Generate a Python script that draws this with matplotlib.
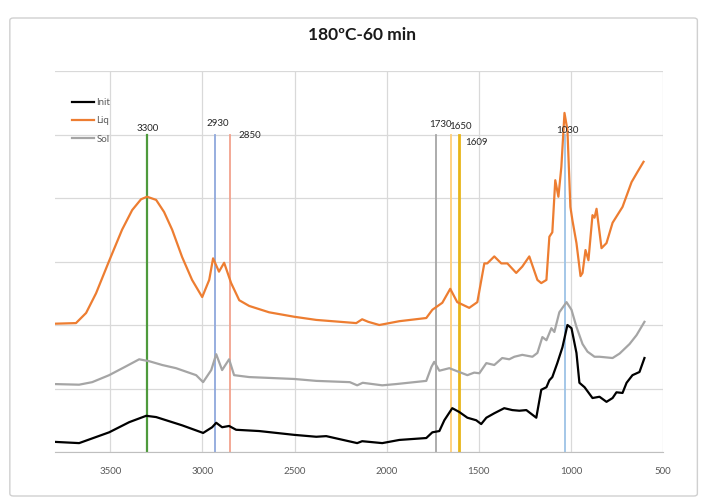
import matplotlib.pyplot as plt
from matplotlib.patches import FancyBboxPatch

# FTIR spectra, wavenumber (cm-1) vs offset absorbance
liq_x = [3805, 3686, 3631, 3577, 3506, 3436, 3381, 3333, 3300, 3251, 3208, 3164,
         3110, 3056, 3001, 2963, 2942, 2910, 2882, 2844, 2800, 2746, 2638, 2502,
         2382, 2165, 2133, 2100, 2040, 1931, 1785, 1752, 1698, 1655, 1617, 1552,
         1508, 1470, 1454, 1416, 1378, 1345, 1297, 1264, 1226, 1182, 1161, 1133,
         1117, 1101, 1085, 1068, 1052, 1035, 1019, 1003, 992, 970, 948, 937, 921,
         905, 883, 872, 861, 834, 807, 774, 720, 671, 639, 606]
liq_y = [2.02, 2.03, 2.19, 2.50, 3.01, 3.50, 3.81, 3.98, 4.02, 3.97, 3.78, 3.50,
         3.07, 2.71, 2.44, 2.71, 3.05, 2.84, 2.98, 2.66, 2.39, 2.30, 2.20, 2.13,
         2.08, 2.03, 2.09, 2.05, 2.0, 2.06, 2.11, 2.24, 2.35, 2.57, 2.36, 2.27,
         2.36, 2.97, 2.97, 3.08, 2.97, 2.97, 2.82, 2.92, 3.08, 2.71, 2.66, 2.71,
         3.39, 3.46, 4.28, 4.02, 4.49, 5.34, 5.07, 3.86, 3.65, 3.29, 2.77, 2.82, 3.18,
         3.02, 3.73, 3.69, 3.83, 3.21, 3.29, 3.61, 3.86, 4.25, 4.41, 4.57]

sol_x = [3805, 3669, 3598, 3506, 3414, 3343, 3289, 3218, 3143, 3034, 2996, 2952,
         2925, 2893, 2855, 2828, 2746, 2502, 2382, 2200, 2160, 2130, 2024, 1948,
         1785, 1757, 1742, 1714, 1660, 1562, 1525, 1497, 1459, 1416, 1373, 1335,
         1307, 1264, 1209, 1182, 1155, 1133, 1106, 1090, 1063, 1024, 997, 970, 937,
         910, 872, 845, 774, 736, 682, 644, 601]
sol_y = [1.07, 1.06, 1.10, 1.21, 1.35, 1.46, 1.43, 1.37, 1.32, 1.21, 1.10, 1.29,
         1.54, 1.29, 1.46, 1.21, 1.18, 1.15, 1.12, 1.10, 1.05, 1.09, 1.05, 1.07,
         1.12, 1.34, 1.42, 1.28, 1.32, 1.21, 1.25, 1.24, 1.40, 1.37, 1.48, 1.46,
         1.50, 1.53, 1.50, 1.56, 1.81, 1.76, 1.95, 1.89, 2.2, 2.36, 2.24, 1.97, 1.70,
         1.58, 1.50, 1.50, 1.48, 1.55, 1.70, 1.84, 2.05]

init_x = [3805, 3669, 3506, 3397, 3305, 3251, 3110, 2996, 2947, 2925, 2893, 2855,
          2817, 2692, 2502, 2382, 2328, 2160, 2133, 2024, 1931, 1785, 1752, 1714,
          1687, 1644, 1606, 1562, 1514, 1487, 1459, 1416, 1362, 1318, 1280, 1242,
          1188, 1161, 1133, 1117, 1101, 1074, 1046, 1019, 997, 970, 954, 926, 883,
          845, 807, 774, 753, 720, 698, 666, 628, 601]
init_y = [0.16, 0.14, 0.31, 0.47, 0.57, 0.55, 0.42, 0.30, 0.39, 0.46, 0.39, 0.41,
          0.35, 0.33, 0.27, 0.24, 0.25, 0.14, 0.17, 0.14, 0.19, 0.22, 0.31, 0.33,
          0.50, 0.69, 0.63, 0.54, 0.50, 0.44, 0.54, 0.61, 0.69, 0.66, 0.65, 0.66,
          0.54, 0.98, 1.02, 1.13, 1.18, 1.40, 1.65, 2.0, 1.95, 1.56, 1.09, 1.02, 0.85,
          0.87, 0.79, 0.85, 0.94, 0.93, 1.09, 1.21, 1.26, 1.48]

# marker bands
band_pos = [3300, 2930, 2850, 1730, 1650, 1609, 1030]
band_labels = ['3300', '2930', '2850', '1730', '1650', '1609', '1030']
band_colors = ['#4e9a3c', '#8fa8dc', '#f2a28e', '#a6a6a6', '#ffcf7a', '#e8b51a', '#9dc3e6']
band_widths = [1.6, 1.3, 1.3, 1.3, 1.3, 2.0, 1.3]
label_dx = [5, 15, 109, 24, 52, 96, 11]
label_y = [5.10, 5.18, 4.99, 5.15, 5.12, 4.87, 5.06]

fig = plt.figure(figsize=(7.03, 5.0), dpi=100)
ax = fig.add_axes([0.0782, 0.096, 0.865, 0.762])

fig.patches.append(FancyBboxPatch((0.014, 0.008), 0.978, 0.956,
                                  boxstyle='round,pad=0,rounding_size=0.005',
                                  transform=fig.transFigure, fill=False,
                                  edgecolor='#d0d0d0', linewidth=1.0))

for xv, c, lw in zip(band_pos, band_colors, band_widths):
    ax.plot([xv, xv], [0, 5], color=c, linewidth=lw, zorder=2)

ax.plot(init_x, init_y, color='black', linewidth=1.6, label='Init', zorder=3)
ax.plot(liq_x, liq_y, color='#ed7d31', linewidth=1.6, label='Liq', zorder=3)
ax.plot(sol_x, sol_y, color='#a5a5a5', linewidth=1.6, label='Sol', zorder=3)

for xv, lab, dx, yv in zip(band_pos, band_labels, label_dx, label_y):
    ax.text(xv - dx, yv, lab, ha='center', va='center', fontsize=7,
            color='#262626', family='Lato', zorder=4)

ax.set_xlim(3800, 500)
ax.set_ylim(0, 6)
ax.set_xticks([3500, 3000, 2500, 2000, 1500, 1000, 500])
ax.set_yticks([0, 1, 2, 3, 4, 5, 6])
ax.set_yticklabels([])
ax.tick_params(axis='both', length=0)
ax.tick_params(axis='x', labelsize=7, labelcolor='#595959', pad=11)
for t in ax.get_xticklabels():
    t.set_family('Lato')
ax.grid(True, color='#d9d9d9', linewidth=0.9)
ax.set_axisbelow(True)
for s in ['top', 'left', 'right']:
    ax.spines[s].set_visible(False)
ax.spines['bottom'].set_color('#bfbfbf')

leg = ax.legend(loc='upper left', bbox_to_anchor=(0.013, 0.952), frameon=False,
                prop={'family': 'Lato', 'size': 7}, labelcolor='#595959',
                handlelength=2.3, handletextpad=0.25, labelspacing=0.95,
                borderaxespad=0.5)

fig.text(0.515, 0.930, '180ºC-60 min', ha='center', va='center',
         fontsize=12.5, fontweight='bold', family='Lato', color='#1a1a1a')

fig.savefig('out.png', dpi=100)
